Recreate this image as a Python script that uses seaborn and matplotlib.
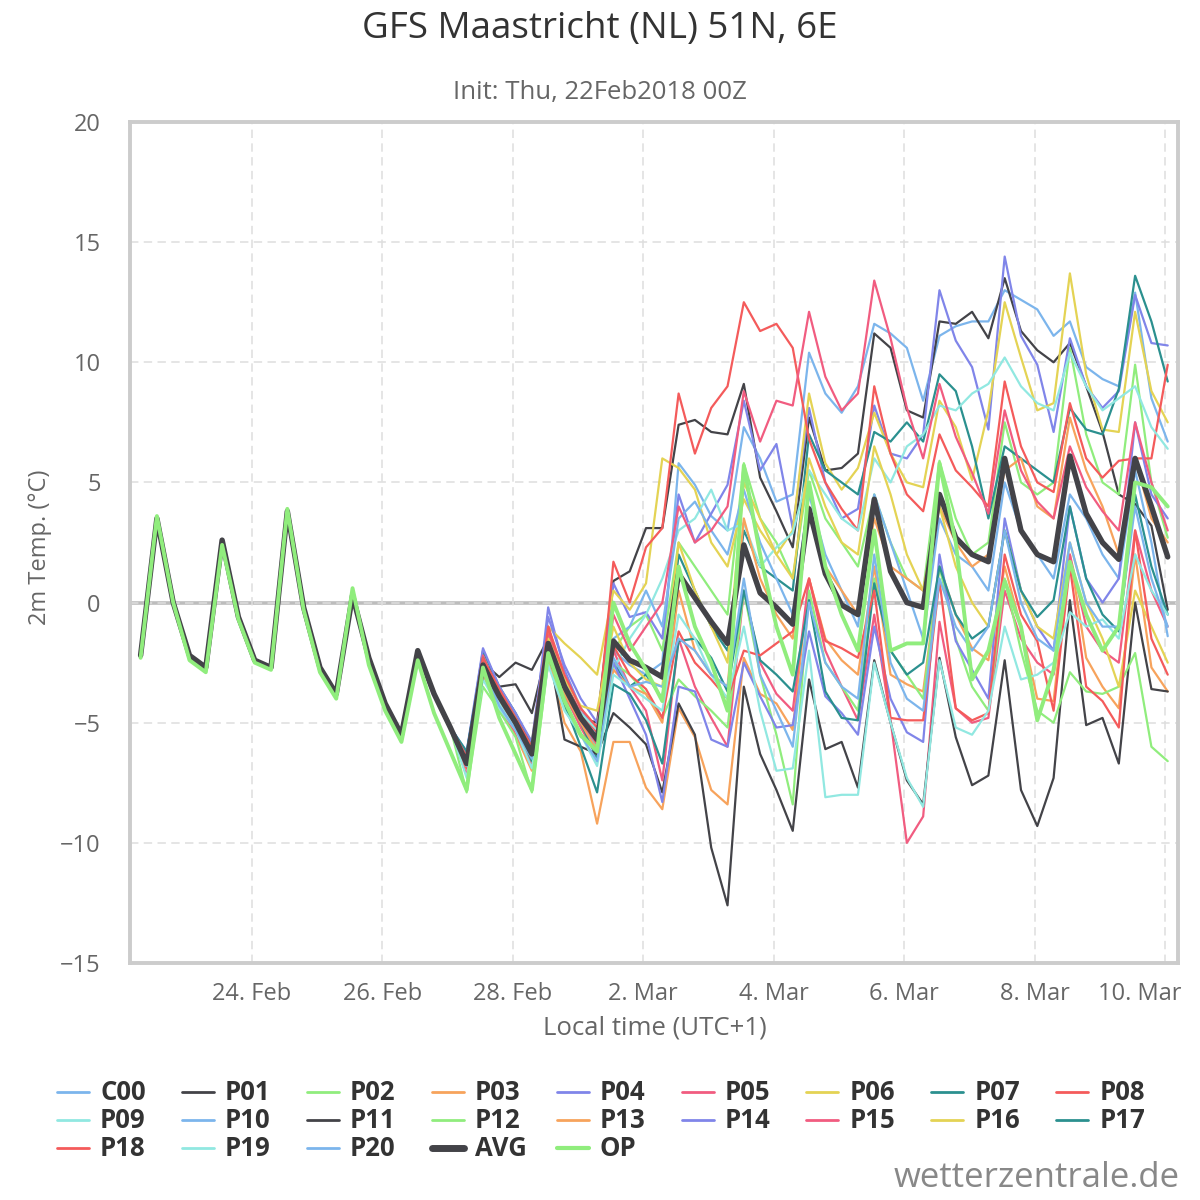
"""
GFS ensemble plume for Maastricht (NL), init Thu 22 Feb 2018 00Z.
2m temperature of the control run, 20 perturbed members, their mean and
the operational run, in local time (UTC+1).
"""

import matplotlib
matplotlib.use("Agg")
import matplotlib.pyplot as plt
import matplotlib.transforms as mtransforms
from matplotlib.lines import Line2D
import numpy as np
import pandas as pd
import seaborn as sns

# --------------------------------------------------------------------------------------------------
# DATA (6-hourly from 22 Feb 07:00 local):
times = pd.date_range("2018-02-22 07:00", periods=64, freq="6h")

# the first five days all members sit on top of each other:
bundle = [-2.2, 3.5, 0.0, -2.2, -2.7, 2.6, -0.6, -2.4, -2.7, 3.8,
          -0.2, -2.7, -3.8, 0.3, -2.3, -4.2, -5.5, -2.0, -3.8, -5.2]

# from 27 Feb 07:00 on, every member goes its own way (4 values per day: 07, 13, 19, 01):
c00 = [-6.5, -2.4, -3.8, -4.9, -6.1, -1.3, -3.3, -4.6, -5.6, -2.0, -2.6, -3.0,
       -2.5, 5.8, 4.9, 3.6, 3.0, 7.3, 6.0, 4.2, 4.5, 10.4, 8.7, 7.9,
       9.0, 11.6, 11.2, 10.6, 8.4, 11.1, 11.5, 11.7, 11.7, 13.0, 12.6, 12.2,
       11.1, 11.7, 9.8, 9.3, 9.0, 12.9, 8.5, 6.7]
p01 = [-6.3, -2.5, -3.1, -2.5, -2.8, -1.5, -4.0, -4.8, -5.0, 0.9, 1.3, 3.1,
       3.1, 7.4, 7.6, 7.1, 7.0, 9.1, 5.2, 3.8, 2.3, 7.7, 5.5, 5.6,
       6.2, 11.2, 10.6, 8.0, 7.7, 11.7, 11.6, 12.1, 11.0, 13.5, 11.3, 10.5,
       10.0, 10.8, 9.0, 7.1, 4.5, 4.1, 3.2, -0.3]
p02 = [-6.6, -2.7, -4.1, -5.1, -6.7, -2.3, -3.9, -5.1, -6.0, -2.0, -1.0, -0.5,
       -2.0, 2.5, 1.5, 0.5, -0.5, 5.8, 3.5, 2.5, 1.0, 5.5, 3.5, 2.5,
       1.5, 4.5, 2.5, 1.0, 0.5, 5.9, 3.5, 2.0, 2.5, 7.5, 5.0, 4.5,
       5.0, 10.6, 7.0, 5.0, 4.5, 9.9, 5.0, 2.7]
p03 = [-6.9, -3.0, -4.5, -5.5, -7.0, -2.2, -5.0, -6.2, -9.2, -5.8, -5.8, -7.7,
       -8.6, -4.4, -5.6, -7.8, -8.4, -2.3, -3.8, -4.2, -5.3, 1.0, -1.5, -2.4,
       -3.0, 1.5, -3.0, -3.4, -3.7, 1.5, -0.5, -1.9, -2.4, 1.5, -1.0, -4.0,
       -4.1, 2.0, -2.3, -3.5, -4.4, 2.0, -2.7, -3.7]
p04 = [-6.4, -2.2, -3.8, -4.8, -6.2, -0.2, -2.8, -4.4, -5.4, 0.8, -0.6, -0.4,
       -1.5, 4.5, 2.5, 3.7, 4.9, 8.4, 5.5, 6.6, 3.1, 8.1, 5.0, 3.5,
       3.9, 8.2, 6.2, 6.0, 7.0, 13.0, 10.9, 9.8, 7.2, 14.4, 11.1, 9.9,
       7.1, 11.0, 9.0, 8.1, 8.8, 12.8, 10.8, 10.7]
p05 = [-7.2, -2.9, -4.4, -5.4, -6.8, -1.2, -3.8, -5.2, -6.4, -2.0, -3.5, -4.5,
       -7.4, -1.5, -3.5, -4.8, -6.0, 0.5, -2.5, -3.8, -4.5, 1.0, -2.0, -3.5,
       -4.9, -0.5, -4.9, -10.0, -8.9, -0.8, -4.4, -5.0, -4.8, 0.5, -1.5, -2.5,
       -3.0, 2.0, -1.0, -2.0, -2.5, 3.0, 0.5, -1.0]
p06 = [-6.5, -2.3, -3.7, -4.7, -5.8, -1.0, -1.7, -2.3, -3.0, 0.5, -0.3, 0.8,
       6.0, 5.6, 4.7, 2.5, 1.5, 4.3, 3.0, 2.0, 3.0, 8.7, 5.8, 4.7,
       5.6, 7.9, 6.2, 5.0, 4.8, 8.4, 7.3, 5.1, 8.0, 12.5, 10.2, 8.0,
       8.3, 13.7, 9.5, 7.2, 7.1, 12.1, 8.8, 7.5]
p07 = [-6.3, -2.0, -3.5, -4.6, -5.9, -1.5, -3.4, -5.0, -6.5, -2.5, -3.5, -3.0,
       -4.0, 2.0, 0.5, -1.0, -2.0, 3.0, 1.5, 1.0, 0.5, 7.0, 5.5, 5.0,
       4.5, 7.1, 6.7, 7.5, 6.7, 9.5, 8.8, 6.5, 3.5, 6.5, 6.0, 5.5,
       5.0, 8.1, 7.2, 7.0, 8.9, 13.6, 11.7, 9.2]
p08 = [-6.9, -2.7, -4.2, -5.0, -6.6, -1.0, -3.3, -4.6, -5.4, 1.7, 0.0, 2.3,
       3.1, 8.7, 6.2, 8.1, 9.0, 12.5, 11.3, 11.6, 10.6, 6.8, 5.0, 3.9,
       3.0, 9.0, 6.2, 4.5, 3.8, 7.0, 5.5, 4.8, 4.0, 9.2, 6.5, 5.0,
       4.6, 8.3, 6.0, 5.2, 5.9, 6.0, 6.0, 9.9]
p09 = [-6.8, -2.8, -4.2, -5.3, -6.5, -1.9, -3.7, -4.6, -5.3, -2.8, -1.5, -0.5,
       1.0, 3.0, 3.5, 4.7, 3.0, 3.3, 1.5, 2.3, 2.9, 5.5, 4.5, 3.5,
       3.0, 6.0, 5.0, 6.5, 7.0, 8.2, 8.0, 8.7, 9.1, 10.2, 9.0, 8.3,
       8.0, 10.4, 9.0, 8.0, 8.5, 9.0, 7.3, 6.4]
p10 = [-6.4, -2.4, -3.9, -4.9, -6.4, -1.5, -3.3, -4.8, -6.2, -1.5, -1.0, 0.5,
       -1.0, 3.5, 4.2, 3.0, 2.0, 4.7, 2.5, 1.0, -0.5, 4.5, 2.0, 0.5,
       -1.0, 4.5, 2.5, 0.5, -1.5, 3.5, 2.0, 1.5, 0.5, 5.0, 3.0, 2.0,
       1.0, 4.5, 3.5, 2.0, 1.0, 5.5, 2.5, -1.4]
p11 = [-6.6, -2.8, -3.5, -3.4, -4.6, -1.8, -5.7, -6.0, -6.3, -4.6, -5.2, -5.9,
       -7.9, -4.2, -5.5, -10.2, -12.6, -3.5, -6.3, -7.8, -9.5, -3.2, -6.1, -5.8,
       -7.7, -2.4, -5.0, -7.4, -8.4, -2.3, -5.6, -7.6, -7.2, -2.4, -7.8, -9.3,
       -7.3, 0.1, -5.1, -4.8, -6.7, 0.0, -3.6, -3.7]
p12 = [-7.9, -3.5, -4.5, -5.6, -7.9, -2.5, -4.4, -5.6, -6.0, -2.5, -3.0, -3.8,
       -4.8, -3.2, -3.9, -4.5, -5.2, 0.5, -3.0, -5.5, -8.4, 0.5, -2.5, -3.5,
       -4.5, 1.0, -2.0, -3.0, -4.0, 1.5, -1.5, -3.5, -4.5, 1.0, -2.0, -4.5,
       -5.0, -2.9, -3.7, -3.8, -3.5, -2.1, -6.0, -6.6]
p13 = [-6.7, -2.6, -4.0, -5.0, -6.3, -2.6, -3.8, -5.0, -6.2, -2.8, -3.5, -3.8,
       -5.0, 0.5, -2.0, -3.0, -3.5, 3.5, 1.0, -0.5, -1.5, 4.0, 1.5, 0.5,
       -0.5, 3.5, 1.5, 1.0, 0.5, 4.0, 2.5, 1.5, 2.0, 5.5, 6.0, 4.0,
       3.5, 7.7, 5.5, 4.0, 2.0, 6.0, 3.5, 2.5]
p14 = [-6.2, -1.9, -3.5, -4.6, -5.8, -0.6, -2.6, -4.0, -5.0, -2.5, -4.0, -5.5,
       -8.3, -3.5, -3.7, -5.7, -6.0, -2.5, -3.9, -5.2, -5.1, -1.2, -3.9, -4.6,
       -5.5, -1.0, -4.0, -5.4, -5.8, 2.0, -1.6, -2.8, -4.0, 3.5, 0.5, -1.0,
       -2.0, 4.0, 1.0, 0.0, 1.0, 7.5, 4.5, 3.5]
p15 = [-6.5, -2.2, -3.9, -5.1, -6.3, -1.4, -3.4, -4.9, -5.9, -0.5, -2.0, -1.0,
       0.0, 4.0, 2.5, 3.0, 4.0, 8.8, 6.7, 8.4, 8.2, 12.1, 9.4, 8.0,
       8.7, 13.4, 11.0, 8.1, 6.0, 9.1, 6.9, 5.4, 3.7, 8.0, 5.5, 4.2,
       3.5, 6.5, 4.8, 3.8, 3.0, 7.5, 5.0, 3.0]
p16 = [-6.6, -2.5, -3.9, -5.0, -6.0, -1.5, -3.2, -4.3, -4.5, -1.0, -2.5, -3.2,
       -3.5, 2.5, 0.5, -1.0, -2.5, 5.0, 3.5, 2.0, 1.0, 6.0, 4.0, 2.5,
       2.0, 6.5, 4.5, 2.0, 0.5, 4.0, 1.5, 0.0, -1.0, 3.0, 0.5, -1.0,
       -1.5, 2.5, 0.0, -1.5, -3.5, 0.5, -1.0, -2.5]
p17 = [-6.2, -2.3, -3.8, -5.0, -6.6, -2.0, -4.2, -6.0, -7.9, -3.4, -3.8, -4.9,
       -6.7, -1.6, -1.5, -2.3, -3.7, 0.5, -2.4, -3.0, -3.7, 0.1, -3.7, -4.8,
       -4.9, 0.8, -2.0, -3.0, -2.5, 1.5, -0.5, -1.5, -1.0, 3.0, 0.5, -0.6,
       0.1, 4.0, 1.0, -0.5, -1.2, 4.5, 1.5, -0.5]
p18 = [-6.4, -2.3, -3.6, -4.8, -6.0, -1.0, -3.0, -4.4, -5.2, -1.8, -3.0, -3.6,
       -4.8, -1.2, -2.5, -3.2, -4.0, -2.0, -2.2, -1.7, -1.2, 1.0, -1.6, -1.9,
       -2.3, 0.5, -4.8, -4.9, -4.9, 0.9, -4.4, -4.9, -4.6, 2.0, -0.5, -1.6,
       -4.5, 1.5, -3.5, -4.1, -5.2, 3.0, -1.5, -3.0]
p19 = [-7.3, -3.2, -4.4, -5.3, -6.9, -2.6, -4.5, -5.5, -6.8, -3.0, -3.5, -4.0,
       -4.5, -0.5, -1.5, -3.0, -4.0, -1.0, -4.5, -7.0, -6.9, -2.0, -8.1, -8.0,
       -8.0, -2.5, -5.0, -7.3, -8.5, -2.4, -5.2, -5.5, -4.5, -1.0, -3.2, -3.0,
       -2.5, -0.4, -1.0, -0.7, -1.5, 2.0, 0.5, -0.5]
p20 = [-6.8, -2.7, -4.3, -5.3, -6.5, -2.0, -4.1, -5.5, -6.6, -2.3, -3.5, -3.3,
       -3.5, -1.5, -2.0, -3.0, -3.5, 1.0, -3.0, -4.5, -6.0, 0.0, -2.5, -3.5,
       -4.0, 2.0, -2.5, -4.0, -4.5, 1.0, -1.0, -2.0, -1.0, 3.0, 0.0, -1.5,
       -2.0, 2.5, 0.0, -1.0, -1.0, 4.0, 1.0, -1.0]
avg = [-6.7, -2.6, -3.9, -5.0, -6.3, -1.7, -3.5, -4.8, -5.7, -1.6, -2.4, -2.7,
       -3.1, 1.2, 0.2, -0.8, -1.7, 2.4, 0.4, -0.2, -0.9, 3.9, 1.2, -0.1,
       -0.5, 4.3, 1.3, 0.0, -0.2, 4.5, 2.7, 2.0, 1.7, 6.0, 3.0, 2.0,
       1.7, 6.1, 3.7, 2.5, 1.8, 6.0, 4.0, 1.9]
# the operational run, whole period:
op = [-2.3, 3.6, 0.0, -2.4, -2.9, 2.4, -0.7, -2.5, -2.8, 3.9,
      -0.3, -2.9, -4.0, 0.6, -2.6, -4.5, -5.8, -2.4, -4.6, -6.2,
      -7.8, -2.7, -4.8, -6.3, -7.8, -2.1, -4.1, -5.5, -6.2, 0.0, -1.7, -2.8,
      -4.1, 1.5, -1.0, -2.5, -4.5, 5.7, 2.0, -1.0, -3.0, 5.0, 1.5, -0.5,
      -2.0, 3.0, -2.0, -1.7, -1.7, 5.8, 2.5, -3.2, -2.0, 0.9, -1.0, -4.9,
      -2.8, 1.7, -0.5, -2.0, -1.0, 5.0, 4.8, 4.0]

names = ["C00"] + [f"P{k:02d}" for k in range(1, 21)] + ["AVG", "OP"]
runs = [c00, p01, p02, p03, p04, p05, p06, p07, p08, p09, p10,
        p11, p12, p13, p14, p15, p16, p17, p18, p19, p20]

# --------------------------------------------------------------------------------------------------
# LONG TABLE FOR SEABORN:
frames = []
for name, late in zip(names[:21], runs):
    frames.append(pd.DataFrame({"time": times, "temp": bundle + late, "member": name}))
frames.append(pd.DataFrame({"time": times, "temp": bundle + avg, "member": "AVG"}))
frames.append(pd.DataFrame({"time": times, "temp": op, "member": "OP"}))
df = pd.concat(frames, ignore_index=True)

# Highcharts default colours, cycling every ten members:
cycle = ["#7cb5ec", "#434348", "#90ed7d", "#f7a35c", "#8085e9",
         "#f15c80", "#e4d354", "#2b908f", "#f45b5b", "#91e8e1"]
colors = {n: cycle[i % 10] for i, n in enumerate(names[:21])}
colors["AVG"] = "#434348"
colors["OP"] = "#90ed7d"
widths = {n: 1.6 for n in names[:21]}
widths["AVG"] = 3.9
widths["OP"] = 2.8

# --------------------------------------------------------------------------------------------------
# PLOTTING:
sns.set_theme(style="white")
plt.rcParams["font.family"] = ["Open Sans", "DejaVu Sans"]

fig = plt.figure(figsize=(12, 12), dpi=100)
ax = fig.add_axes([130 / 1200, 1 - 963 / 1200, 1048 / 1200, 841 / 1200])

ax.axhline(0, color="#bdbdbd", lw=2.6, zorder=0.3)

sns.lineplot(data=df, x="time", y="temp", hue="member", hue_order=names,
             palette=colors, size="member", size_order=names, sizes=widths,
             estimator=None, sort=False, legend=False, ax=ax)
for ln in ax.lines:
    ln.set_solid_joinstyle("round")
    ln.set_solid_capstyle("round")

ax.set_xlim(pd.Timestamp("2018-02-22 03:06"), pd.Timestamp("2018-03-10 04:47"))
ax.set_ylim(-15, 20)

tick_days = pd.date_range("2018-02-24", "2018-03-10", freq="2D")
ax.set_xticks(tick_days)
ax.set_xticklabels([f"{d.day}. {d.strftime('%b')}" for d in tick_days])
yticks = np.arange(-15, 21, 5)
ax.set_yticks(yticks)
ax.set_yticklabels([f"{v}".replace("-", "\u2212") for v in yticks])

ax.grid(True, color="#dedede", linestyle=(0, (5.5, 3.5)), linewidth=1.1)
ax.set_axisbelow(True)

ax.tick_params(axis="x", length=12, width=1.1, color="#cccccc", pad=2,
               labelsize=17, labelcolor="#666666")
ax.tick_params(axis="y", length=0, pad=21, labelsize=17, labelcolor="#666666")
# the last date label is pushed left to stay inside the figure
last = ax.get_xticklabels()[-1]
last.set_horizontalalignment("right")
last.set_transform(last.get_transform() + mtransforms.ScaledTranslation(0.16, 0, fig.dpi_scale_trans))

for sp in ax.spines.values():
    sp.set_color("#cccccc")
    sp.set_linewidth(2.8)
ax.set_xlabel("")
ax.set_ylabel("")

# --------------------------------------------------------------------------------------------------
# TEXTS:
fig.text(0.5, 1 - 29 / 1200, "GFS Maastricht (NL) 51N, 6E", ha="center", va="center",
         fontsize=26.5, color="#333333")
fig.text(0.5, 1 - 92 / 1200, "Init: Thu, 22Feb2018 00Z", ha="center", va="center",
         fontsize=18.5, color="#666666")
fig.text(40 / 1200, 1 - 547 / 1200, "2m Temp. (°C)", rotation=90, ha="center", va="center",
         fontsize=17, color="#666666")
fig.text(655 / 1200, 1 - 1028 / 1200, "Local time (UTC+1)", ha="center", va="center",
         fontsize=18.5, color="#666666")
fig.text(1180 / 1200, 1 - 1178 / 1200, "wetterzentrale.de", ha="right", va="center",
         fontsize=25, color="#888888")

# legend, row by row in nine columns
for k, name in enumerate(names):
    row, col = divmod(k, 9)
    lx = (100 + col * 124.9) / 1200
    ly = 1 - (1092 + row * 28) / 1200
    lw = 5.0 if name == "AVG" else (3.0 if name == "OP" else 2.0)
    fig.add_artist(Line2D([lx - 43 / 1200, lx - 11 / 1200], [ly, ly], color=colors[name], lw=lw))
    fig.text(lx, ly, name, ha="left", va="center", fontsize=18.5, fontweight="bold",
             color="#333333")

fig.savefig("out.png", dpi=100)
